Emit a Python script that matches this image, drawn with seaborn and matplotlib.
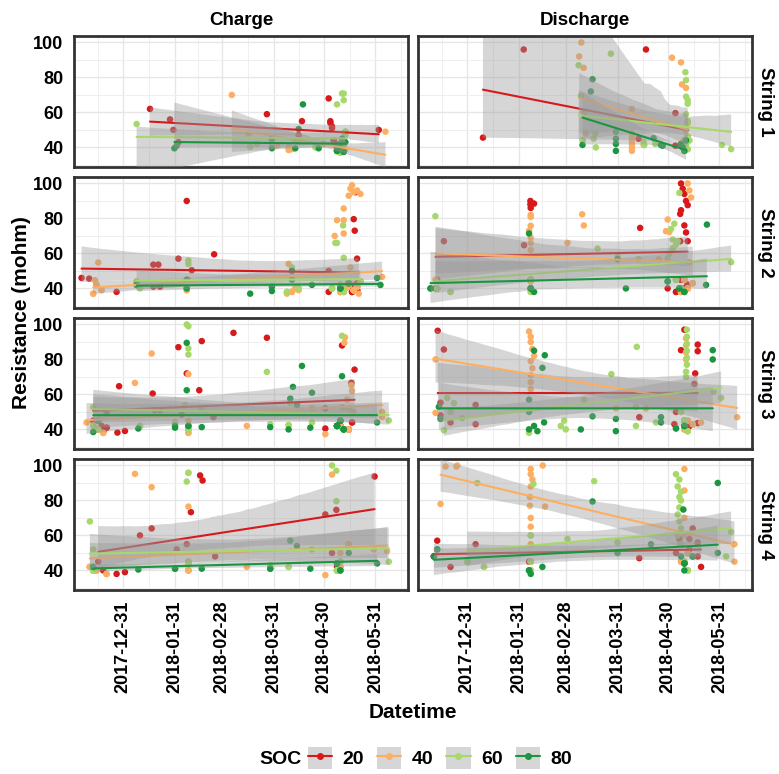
import numpy as np
import pandas as pd
import matplotlib
matplotlib.use("Agg")
import matplotlib.pyplot as plt
import matplotlib.dates as mdates
from matplotlib.lines import Line2D
from matplotlib.patches import Patch
from matplotlib.legend_handler import HandlerTuple
import seaborn as sns

# ---------------- data ----------------
ORIGIN = "2017-12-01"          # day 0 of the "day" values below
SOC_LEVELS = [20, 40, 60, 80]
SOC_COLORS = ["#d7191c", "#fdae61", "#a6d96a", "#1a9641"]
MODES = ["Charge", "Discharge"]
STRINGS = ["String 1", "String 2", "String 3", "String 4"]
TICK_DATES = ["2017-12-31", "2018-01-31", "2018-02-28", "2018-03-31", "2018-04-30", "2018-05-31"]
Y_TICKS = [40, 60, 80, 100]

# points: (day since ORIGIN, resistance mohm, number of overlapping points)
S1_CHARGE_20 = [(46,62,1),(58,56,1),(60,50,1),(63,43,1),(116,59,1),(135,47,1),(137,55,1),(153,68,1),(154,55,1),(154,54,1),(155,52,1),(155,51,1),(156,44,2),(157,42,2),(158,40,2),(183,50,1)]
S1_CHARGE_40 = [(95,70,1),(105,48,1),(119,44,1),(122,41,1),(129,38.5,1),(129,40,1),(131,39,1),(135,44,1),(150,42,1),(160,40,3),(161,38,3),(162,41,2),(163,39,3),(187,49,1)]
S1_CHARGE_60 = [(38,53.4,1),(106,40.4,1),(110,42,1),(119,41,1),(133,44,1),(145,40,1),(158,64.6,1),(161,70.8,1),(162,70.8,1),(162,67,1),(158,38,3),(159,40,3),(160,42,3),(161,39,3),(162,44,2),(163,47,2),(163,49,2),(160,37,3)]
S1_CHARGE_80 = [(60.6,39.5,1),(62,41,1),(119,39.5,1),(119,45,1),(133,39.5,1),(135,50.5,1),(137.6,64.6,1),(147,39.5,1),(158,38,2),(159,40,2),(160,42,2),(161,45,1),(162,37.5,2),(163,43,1)]

S1_DISCHARGE_20 = [(39.4,45.6,1),(63.8,96,1),(132.6,45,1),(137,96,1),(154.6,59.6,1),(154.6,41,1),(158,42,1),(160,44,1),(161,40,1),(162,46,1)]
S1_DISCHARGE_40 = [(97,92,1),(98.3,100,1),(99.7,85.5,1),(100,60,1),(101,48,1),(128.6,38,1),(128.6,40,1),(128.6,42,1),(128.6,44,1),(128.6,46,1),(128.6,48,1),(128.6,62,1),(135.6,41.4,1),(152.6,91.3,1),(158,88.6,1),(158.6,76,1),(161,74,1),(160,38,2),(161,42,2),(162,46,2),(161,50,1),(162,54,1),(160,44,2)]
S1_DISCHARGE_60 = [(96.7,87,1),(98,69.4,1),(99,44,2),(105.7,45,1),(106.7,48,1),(107,40,1),(116,93.6,1),(135.6,43,1),(136,41.4,1),(142.6,42,1),(160.6,83,1),(161,78.5,1),(161,69,1),(162,67,1),(162,65,1),(161,59,1),(162,55,2),(161,50,2),(162,46,2),(161,42,2),(162,39,2),(163,44,2),(182.5,41.4,1),(188,39,1)]
S1_DISCHARGE_80 = [(99,41.4,1),(104,72,1),(105,79,1),(119,49,1),(119,45,1),(119,42,1),(119,38,1),(141.6,45.3,1),(146,41.4,1),(147,41,1),(158,42,1),(159,40,1),(160,38,1),(161,44,1)]

S2_CHARGE_20 = [(5,46,1),(9.6,45.6,1),(26,38,1),(48,53.6,1),(51,53.6,1),(48,41,1),(52,41,1),(63,57,1),(68,90,1),(71,50.4,1),(84.4,59.5,1),(153,50,1),(153,38,1),(168,79.6,1),(168.6,73,1),(169,95,1),(170,57,1),(167,38,3),(168,40,3),(169,42,2),(170,39,3),(171,44,2)]
S2_CHARGE_40 = [(12,37,2),(13,44.6,2),(14,42,2),(15,54.8,1),(17,39,2),(68,39,2),(69,45,1),(128,37,1),(129,54,1),(131,38,2),(133,40,2),(135,39,1),(156.6,70,1),(158,79,1),(162,79,1),(162,85.7,1),(162,71.4,1),(165,93,1),(166,97,1),(167,99,1),(168,95,1),(170,96,1),(172,94,1),(166,52,1),(171,37,1),(185,46.6,1),(160,38,8),(163,40,8),(165,42,8),(168,39,8),(170,41,8),(172,44,4)]
S2_CHARGE_60 = [(38,44,2),(40,40,1),(68,40,2),(69,56,1),(69,54,1),(128,38,2),(131,52,1),(131,50,1),(135,40,2),(155,40,4),(157,66,1),(158,66,1),(160,42,6),(161.6,76,1),(162,57.5,1),(162,38,5),(172,44,1)]
S2_CHARGE_80 = [(38,42,2),(68,40,1),(68,45,1),(106,37,1),(119,38.5,1),(119,41,1),(131,45,1),(131,50,1),(143,42,1),(160,40,3),(165,43,3),(182,46,1),(184,42,1)]

S2_DISCHARGE_20 = [(11,40,1),(12,45,1),(16,67,1),(64,64.7,1),(67.8,90,1),(67.8,88,1),(68,86,1),(70,88.5,1),(68,45,2),(68,40,3),(133.5,74.6,1),(150,40,1),(157.5,82.6,1),(158,84.7,1),(157.6,67,1),(158,100,1),(159,97,1),(160,94,1),(161,90,1),(162,87.6,1),(160,76,1),(161,72,1),(162,67,1),(158,45,3),(160,40,4),(162,42,4),(155,38,2)]
S2_DISCHARGE_40 = [(11,45,1),(67,73,1),(68,82,1),(68,80.9,1),(68,75.8,1),(68,69,1),(68,66,1),(68,62,1),(68,44,2),(68,40,5),(90,66,1),(98.8,82.4,1),(99.8,76,1),(144.6,56.7,1),(149,72.7,1),(150,79.4,1),(151,72.3,1),(162,100,1),(163,96,1),(164,92,1),(163,55,1),(160,45,4),(162,40,5),(158,38,3),(165,43,3)]
S2_DISCHARGE_60 = [(10.9,81.3,1),(12,40,4),(20,38,2),(68,45,2),(68,38,2),(108,62.8,1),(120,58,1),(132.6,56.7,1),(150,57,1),(151,60,1),(152,74,1),(153,68,1),(153,63,1),(154,77,1),(155,65,1),(156,67,1),(157,94.6,1),(155,45,5),(158,40,6),(188,55,1)]
S2_DISCHARGE_80 = [(8,40,2),(67,71.4,1),(68,40,2),(70,38,1),(120,56.7,1),(125,40,1),(150,44,2),(157,40,2),(160,38,2),(173,42,1),(173.5,76.5,1)]

S3_CHARGE_20 = [(12,45,1),(14,40,2),(17,42,1),(18,39,2),(20,50,1),(20,41,2),(26.5,38.2,1),(27.5,64.7,1),(31,39.1,1),(47.6,60.5,1),(49,51,1),(52,51,1),(63,87,1),(65,48.5,1),(68,72,1),(75.5,62.4,1),(77,90.5,1),(84,47,1),(96,95.2,1),(116,92.4,1),(151,52,1),(151,40.5,1),(161,88,1),(166.6,66.6,1),(168.5,74.2,1),(160,42,3),(165,40,3),(167,44,2)]
S3_CHARGE_40 = [(8,44,1),(12,42.4,1),(14,40,2),(18,38,2),(37,66.6,1),(47,83.4,1),(69,71.6,1),(69,45,1),(69,40,2),(69,38,2),(104,42,1),(151,37.3,1),(161,52.5,1),(162.8,92.6,1),(162.4,89.5,1),(164,57,1),(165,52,1),(166.6,65.3,1),(167,62,1),(168,50,1),(160,42,3),(165,40,3),(185,47,1),(185,50,1)]
S3_CHARGE_60 = [(12,52.7,1),(12,42,2),(15,40,3),(40,42,2),(61,44,2),(67,53.9,1),(68,100,1),(69,99,1),(69,86.3,1),(69,82.8,1),(69,40,5),(77,52.2,1),(116,72.9,1),(118,43,1),(129,42.5,2),(130,55,1),(143,52.2,1),(143,44,1),(161,93.5,1),(161,52.5,1),(158,42,5),(160,45,4),(162,40,4),(189,45.1,1)]
S3_CHARGE_80 = [(12,38.5,1),(15,45,2),(39,40.5,1),(61,41,1),(61,42,1),(68,89.5,1),(68,62.4,1),(69,42,2),(77,41.3,1),(118,41.3,1),(129,40,1),(130,57.6,1),(131.6,64.3,1),(134,53.9,1),(137,76.3,1),(142,41,1),(143,61,1),(161,70.4,1),(158,42,5),(160,45,4),(162,40,3),(182,44,1)]

S3_DISCHARGE_20 = [(12.3,96.4,1),(14,55.3,1),(14,48,1),(16,85.7,1),(20,44,1),(35,54,1),(35,43,1),(133,47,1),(154,43,1),(155,50,1),(158,85.3,1),(160,97,1),(166,66,1),(166.5,72,1),(168,88.5,1),(168,84.7,1),(168,43.6,1),(160,45,2),(163,42,2)]
S3_DISCHARGE_40 = [(11,80,1),(11,49.5,1),(67,96,1),(68,93,1),(68,90,1),(69,86,1),(70,82,1),(68,79,1),(69,75,1),(68,71,1),(68,67,1),(68,63,1),(67,40,1),(119,52,1),(137,52,1),(161,92,1),(161,88,1),(161,84,1),(161,80,1),(160,40,3),(162,45,2),(165,43,2),(170,44,1),(191.6,47,1)]
S3_DISCHARGE_60 = [(16,39.5,1),(18,58,1),(20,50,1),(22,55,1),(27,46.5,1),(67,38,1),(86,42,1),(88,45,1),(89,40,1),(100,57,1),(116.3,71.6,1),(131,53,1),(131,42,1),(131.5,87.2,1),(143,44,1),(161,73,1),(161,70,1),(161.5,97,1),(161.5,93,1),(161.5,89,1),(161.5,85,1),(161.5,81,1),(161.5,77,1),(158,50,3),(160,45,3),(162,39,3),(177.6,61.5,1),(182,58,1)]
S3_DISCHARGE_80 = [(13,52.9,1),(14,46,1),(67,57,1),(67,50,1),(67,40,1),(70,42,1),(72,39,1),(70,85,1),(75,75.2,1),(76.4,82.4,1),(76,44,1),(98,40,1),(105,47.5,1),(119,46,1),(119,39,1),(146,44,1),(146,47,1),(155,40.6,2),(160,42,3),(177,85.3,1),(177,80,1)]

S4_CHARGE_20 = [(15,45,1),(18,40,1),(26,38,1),(31,39,1),(40,60,1),(47,64,1),(62,52,1),(68,55,1),(70.5,73.3,1),(76,94.3,1),(77.5,91.4,1),(85,48,1),(151,72,1),(155,50,1),(157.6,74.6,1),(158,42,1),(180.5,93.7,1)]
S4_CHARGE_40 = [(10,42,4),(14,40,4),(20,38,3),(37,95.2,1),(47,87.6,1),(69,95.8,1),(69,76.5,1),(69,45,4),(69,40,5),(104,42,1),(151,37.3,1),(155,94.8,1),(160,50,2),(165,55,3),(160,42,3),(180,52,1),(188,51,1)]
S4_CHARGE_60 = [(10,68,1),(12,52,1),(12,40,5),(68,90.8,1),(69,95.8,1),(69,44,5),(118,43,2),(129,42,2),(143,52,1),(155,100,1),(157.6,97,1),(157.6,79.6,1),(158,40,6),(160,45,4),(189,45,1)]
S4_CHARGE_80 = [(12,42,2),(39,40.5,1),(61,41,2),(77,41,1),(118,41,2),(130,57,1),(134,54,1),(142,41,1),(158,44,3),(160,40,2),(165,50,1),(182,44,1)]

S4_DISCHARGE_20 = [(10,48,1),(12,57,1),(20,42,1),(35,55,1),(67,45,1),(133,47,1),(155,50,1),(157,58,1),(160,44,1),(163,52,1),(163,58,1),(165,64,1),(168,48,1),(168,56,1),(170,42,1)]
S4_DISCHARGE_40 = [(14,78,1),(17,99.4,1),(23.5,99.4,1),(24,100,1),(68,98,1),(68,95,1),(69,92,1),(68,88,1),(67.5,82,1),(67.5,77,1),(68,70,1),(68,65,1),(68,55,1),(75.2,100,1),(76.6,76.5,1),(160,98,1),(160,85.7,1),(160,70,1),(160,60,1),(162,50,2),(158,45,2),(190,55,1),(190,45,1)]
S4_DISCHARGE_60 = [(30,45,3),(36,90,1),(40,42,2),(68,60,2),(68,45,4),(68,40,3),(69.6,89.5,1),(90,58,1),(106,91,1),(120,56,1),(155,95,1),(156,88,1),(156,72,1),(156,60,1),(157,92,1),(157,82,1),(157,76,1),(157,68,1),(158,85,1),(158,80,1),(158,64,1),(158,55,2),(160,45,4),(162,40,4),(185,48,1),(188,62,1)]
S4_DISCHARGE_80 = [(10,48,2),(12,52,2),(67,40,2),(68,38,1),(75,42,1),(105,79.4,1),(120,50,1),(140,55,1),(158,48,1),(159.4,74.8,1),(160,40,1),(160,44,3),(165,48,2),(180,50,1),(180,90,1)]

GROUPS = {
    ("String 1", "Charge"): [S1_CHARGE_20, S1_CHARGE_40, S1_CHARGE_60, S1_CHARGE_80],
    ("String 1", "Discharge"): [S1_DISCHARGE_20, S1_DISCHARGE_40, S1_DISCHARGE_60, S1_DISCHARGE_80],
    ("String 2", "Charge"): [S2_CHARGE_20, S2_CHARGE_40, S2_CHARGE_60, S2_CHARGE_80],
    ("String 2", "Discharge"): [S2_DISCHARGE_20, S2_DISCHARGE_40, S2_DISCHARGE_60, S2_DISCHARGE_80],
    ("String 3", "Charge"): [S3_CHARGE_20, S3_CHARGE_40, S3_CHARGE_60, S3_CHARGE_80],
    ("String 3", "Discharge"): [S3_DISCHARGE_20, S3_DISCHARGE_40, S3_DISCHARGE_60, S3_DISCHARGE_80],
    ("String 4", "Charge"): [S4_CHARGE_20, S4_CHARGE_40, S4_CHARGE_60, S4_CHARGE_80],
    ("String 4", "Discharge"): [S4_DISCHARGE_20, S4_DISCHARGE_40, S4_DISCHARGE_60, S4_DISCHARGE_80],
}

rows = []
for (string, mode), lists in GROUPS.items():
    for soc, pts in zip(SOC_LEVELS, lists):
        for day, res, n in pts:
            for _ in range(n):
                rows.append((string, mode, soc, day, res))
df = pd.DataFrame(rows, columns=["string", "mode", "SOC", "day", "res"])
origin = pd.Timestamp(ORIGIN)
df["Datetime"] = origin + pd.to_timedelta(df["day"], unit="D")
df["x"] = mdates.date2num(df["Datetime"])

# ---------------- style ----------------
sns.set_style("white")
plt.rcParams["font.family"] = ["Liberation Sans", "DejaVu Sans"]
plt.rcParams["font.weight"] = "bold"
plt.rcParams["text.color"] = "black"
plt.rcParams["axes.labelcolor"] = "black"
plt.rcParams["xtick.color"] = "black"
plt.rcParams["ytick.color"] = "black"

W, H = 779, 774
fig, axes = plt.subplots(4, 2, figsize=(W / 100, H / 100), dpi=100, sharex=True, sharey=True)
fig.subplots_adjust(left=74 / W, right=752 / W, top=1 - 36 / H, bottom=1 - 590 / H,
                    wspace=10 / 334, hspace=10 / 131)

palette = dict(zip(SOC_LEVELS, SOC_COLORS))
x0 = mdates.date2num(origin)
major = mdates.date2num(pd.to_datetime(TICK_DATES))
half = np.diff(major).mean() / 2
minor = np.concatenate([[major[0] - half], (major[:-1] + major[1:]) / 2, [major[-1] + half]])

for i, s in enumerate(STRINGS):
    for j, m in enumerate(MODES):
        ax = axes[i, j]
        sub = df[(df["string"] == s) & (df["mode"] == m)]
        sns.scatterplot(data=sub, x="x", y="res", hue="SOC", palette=palette,
                        hue_order=SOC_LEVELS, s=22, linewidth=0, legend=False,
                        ax=ax, zorder=1.5)
        for k, soc in enumerate(SOC_LEVELS):
            g = sub[sub["SOC"] == soc]
            nc, nl = len(ax.collections), len(ax.lines)
            sns.regplot(data=g, x="x", y="res", scatter=False, ci=95, seed=1,
                        color=palette[soc], truncate=True, ax=ax,
                        line_kws=dict(lw=1.5))
            for c in ax.collections[nc:]:
                c.set_facecolor("#999999")
                c.set_alpha(0.4)
                c.set_edgecolor("none")
                c.set_zorder(2 + 2 * k)
            for ln in ax.lines[nl:]:
                ln.set_zorder(3 + 2 * k)
        ax.set_xlabel("")
        ax.set_ylabel("")
        ax.set_xlim(x0 + 0.5, x0 + 200.5)
        ax.set_ylim(28.8, 103.7)
        ax.set_xticks(major)
        ax.set_xticks(minor, minor=True)
        ax.set_yticks(Y_TICKS)
        ax.set_yticks([30, 50, 70, 90], minor=True)
        ax.set_facecolor("white")
        ax.set_axisbelow(True)
        ax.grid(which="major", color="#e6e6e6", lw=1.0)
        ax.grid(which="minor", color="#efefef", lw=0.7)
        for sp in ax.spines.values():
            sp.set_visible(True)
            sp.set_color("#333333")
            sp.set_linewidth(2.0)
        ax.tick_params(which="minor", length=0)
        ax.tick_params(axis="x", which="major", length=4 if i == 3 else 0, width=1,
                       color="#333333", labelsize=13, labelcolor="black", labelrotation=90)
        ax.tick_params(axis="y", which="major", length=4 if j == 0 else 0, width=1,
                       color="#333333", labelsize=13, labelcolor="black")
        if i == 0:
            ax.set_title(m, fontsize=13.5, fontweight="bold", pad=8, color="black")
        if j == 1:
            ax.text(1.04, 0.5, s, transform=ax.transAxes, rotation=270,
                    ha="center", va="center", fontsize=13.5, fontweight="bold")

axes[3, 0].set_xticklabels(TICK_DATES)
axes[3, 1].set_xticklabels(TICK_DATES)

fig.text(22 / W, 1 - 313 / H, "Resistance (mohm)", rotation=90, ha="center", va="center",
         fontsize=15, fontweight="bold")
fig.text(413 / W, 1 - 713 / H, "Datetime", ha="center", va="center",
         fontsize=15, fontweight="bold")

# legend
fig.text(281 / W, 1 - 759 / H, "SOC", ha="center", va="center", fontsize=14, fontweight="bold")
handles = [(Patch(facecolor="#d6d6d6", edgecolor="none"),
            Line2D([], [], color=c, lw=1.5, marker="o", markersize=4))
           for c in SOC_COLORS]
fig.legend(handles, [str(v) for v in SOC_LEVELS], ncol=4, loc="center",
           bbox_to_anchor=(440 / W, 1 - 758 / H), frameon=False,
           handler_map={tuple: HandlerTuple(ndivide=1, pad=0)},
           handlelength=1.25, handleheight=1.35, handletextpad=0.55,
           columnspacing=0.65, prop=dict(size=14, weight="bold"))

fig.savefig("out.png", dpi=100)
